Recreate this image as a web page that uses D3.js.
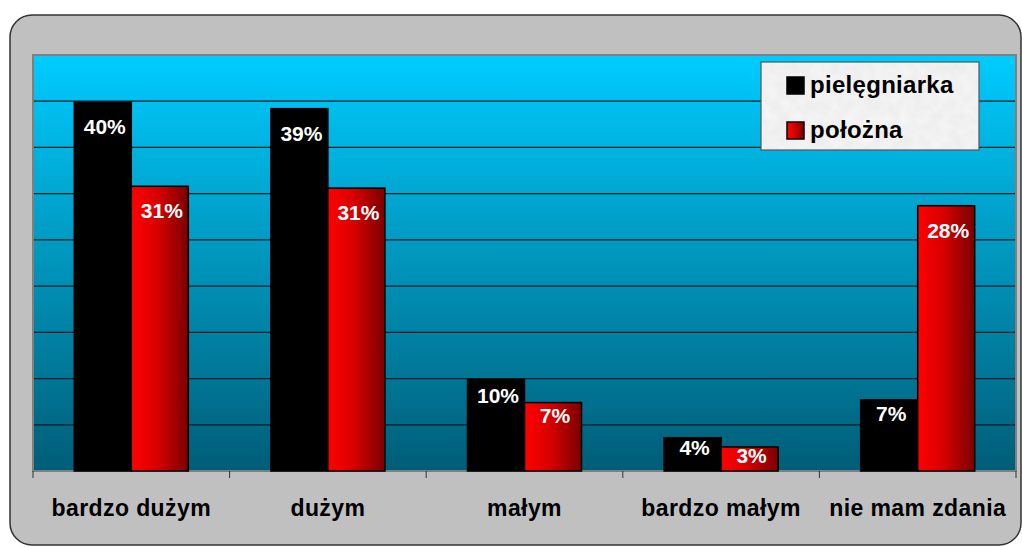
<!DOCTYPE html>
<html>
<head>
<meta charset="utf-8">
<script src="https://cdn.jsdelivr.net/npm/d3@7"></script>
<style>
  body { margin: 0; background: #fff; }
  svg { display: block; font-family: Arial, "Liberation Sans", sans-serif; }
</style>
</head>
<body>
<svg></svg>
<script>
const width = 1022;
const height = 547;

// data (bar heights, labels as printed)
const categories = ["bardzo dużym", "dużym", "małym", "bardzo małym", "nie mam zdania"];
const series = ["pielęgniarka", "położna"];
const pielegniarka = [39.9, 39.2, 9.9, 3.6, 7.7];
const polozna = [30.8, 30.6, 7.4, 2.6, 28.7];
const pielegniarkaLabels = ["40%", "39%", "10%", "4%", "7%"];
const poloznaLabels = ["31%", "31%", "7%", "3%", "28%"];
const yTicks = [0, 5, 10, 15, 20, 25, 30, 35, 40, 45];

const values = [pielegniarka, polozna];
const labels = [pielegniarkaLabels, poloznaLabels];

const plot = { left: 33, top: 55, right: 1016, bottom: 471 };

const svg = d3.select("svg")
    .attr("width", width)
    .attr("height", height);

const defs = svg.append("defs");

// background gradient of the plot area
const bg = defs.append("linearGradient")
    .attr("id", "bgGrad")
    .attr("x1", 0).attr("y1", 0).attr("x2", 0).attr("y2", 1);
bg.append("stop").attr("offset", "0%").attr("stop-color", "#00ccff");
bg.append("stop").attr("offset", "100%").attr("stop-color", "#005d77");

// red bars gradient
const red = defs.append("linearGradient")
    .attr("id", "redGrad")
    .attr("x1", 0).attr("y1", 0).attr("x2", 1).attr("y2", 0);
red.append("stop").attr("offset", "0%").attr("stop-color", "#ff0000");
red.append("stop").attr("offset", "45%").attr("stop-color", "#d80000");
red.append("stop").attr("offset", "100%").attr("stop-color", "#7a0000");

// paper texture for the legend
const tex = defs.append("filter").attr("id", "paper")
    .attr("x", 0).attr("y", 0).attr("width", 1).attr("height", 1);
tex.append("feTurbulence").attr("type", "fractalNoise")
    .attr("baseFrequency", 0.08).attr("numOctaves", 2).attr("seed", 3).attr("result", "noise");
tex.append("feColorMatrix").attr("in", "noise").attr("type", "matrix")
    .attr("values", "0 0 0 0 0.93  0 0 0 0 0.93  0 0 0 0 0.93  0 0 0 -1.2 1.1")
    .attr("result", "tint");
tex.append("feComposite").attr("in", "tint").attr("in2", "SourceGraphic").attr("operator", "atop");

const fills = ["#000000", "url(#redGrad)"];

// outer frame
svg.append("rect")
    .attr("x", 10).attr("y", 15)
    .attr("width", 1011).attr("height", 530)
    .attr("rx", 22).attr("ry", 22)
    .attr("fill", "#c0c0c0")
    .attr("stroke", "#333")
    .attr("stroke-width", 1.5);

// scales
const x = d3.scaleBand()
    .domain(categories)
    .range([plot.left, plot.right])
    .paddingInner(0).paddingOuter(0);

const barW = x.bandwidth() * 0.29;
const x1 = d3.scaleBand()
    .domain(series)
    .range([-barW, barW]);

const y = d3.scaleLinear()
    .domain([0, 45])
    .range([plot.bottom, plot.top]);

// plot background
svg.append("rect")
    .attr("x", plot.left).attr("y", plot.top)
    .attr("width", plot.right - plot.left)
    .attr("height", plot.bottom - plot.top)
    .attr("fill", "url(#bgGrad)");

// gridlines
svg.append("g")
    .selectAll("line")
    .data(yTicks.filter(d => d > 0 && d < 45))
    .join("line")
    .attr("x1", plot.left).attr("x2", plot.right)
    .attr("y1", d => y(d)).attr("y2", d => y(d))
    .attr("stroke", "#041d24")
    .attr("stroke-width", 1.3);

// plot border
svg.append("rect")
    .attr("x", plot.left).attr("y", plot.top)
    .attr("width", plot.right - plot.left)
    .attr("height", plot.bottom - plot.top)
    .attr("fill", "none")
    .attr("stroke", "#7f7f7f")
    .attr("stroke-width", 2);

// bars
const rows = (s, si) => categories.map((c, ci) => ({ c, s, si, v: values[si][ci], t: labels[si][ci] }));

const groups = svg.append("g")
    .selectAll("g")
    .data(series)
    .join("g");

groups.selectAll("rect")
    .data(rows)
    .join("rect")
    .attr("x", d => x(d.c) + x.bandwidth() / 2 + x1(d.s))
    .attr("y", d => y(d.v))
    .attr("width", x1.bandwidth())
    .attr("height", d => y(0) - y(d.v))
    .attr("fill", d => fills[d.si])
    .attr("stroke", "#000")
    .attr("stroke-width", 1.5);

// value labels
groups.selectAll("text")
    .data(rows)
    .join("text")
    .attr("x", d => x(d.c) + x.bandwidth() / 2 + x1(d.s) + x1.bandwidth() / 2 + 2)
    .attr("y", d => {
        const h = y(0) - y(d.v);
        return y(d.v) + Math.min(14 + h * 0.1, 32);
    })
    .attr("text-anchor", "middle")
    .attr("fill", "#fff")
    .attr("font-size", "21px")
    .attr("font-weight", "bold")
    .text(d => d.t);

// x axis
const xAxis = svg.append("g")
    .attr("transform", `translate(0,${plot.bottom})`);

xAxis.selectAll("line")
    .data(d3.range(categories.length + 1))
    .join("line")
    .attr("x1", i => plot.left + i * x.bandwidth())
    .attr("x2", i => plot.left + i * x.bandwidth())
    .attr("y1", 0).attr("y2", 7)
    .attr("stroke", "#333")
    .attr("stroke-width", 1);

xAxis.selectAll("text")
    .data(categories)
    .join("text")
    .attr("x", d => x(d) + x.bandwidth() / 2)
    .attr("y", 45)
    .attr("text-anchor", "middle")
    .attr("font-size", "23px")
    .attr("font-weight", "bold")
    .attr("letter-spacing", "0.4px")
    .attr("fill", "#000")
    .text(d => d);

// legend
const legend = svg.append("g");
legend.append("rect")
    .attr("x", 761).attr("y", 62)
    .attr("width", 218).attr("height", 88)
    .attr("fill", "#ebebeb")
    .attr("filter", "url(#paper)");
legend.append("rect")
    .attr("x", 761).attr("y", 62)
    .attr("width", 218).attr("height", 88)
    .attr("fill", "none")
    .attr("stroke", "#555")
    .attr("stroke-width", 1.2);

const items = legend.selectAll("g.item")
    .data(series)
    .join("g")
    .attr("class", "item")
    .attr("transform", (d, i) => `translate(787,${77 + i * 45})`);

items.append("rect")
    .attr("width", 17).attr("height", 17)
    .attr("fill", (d, i) => fills[i])
    .attr("stroke", "#000")
    .attr("stroke-width", 1.5);

items.append("text")
    .attr("x", 23)
    .attr("y", 16)
    .attr("font-size", "24px")
    .attr("font-weight", "bold")
    .attr("letter-spacing", "0.3px")
    .attr("fill", "#000")
    .text(d => d);
</script>
</body>
</html>
